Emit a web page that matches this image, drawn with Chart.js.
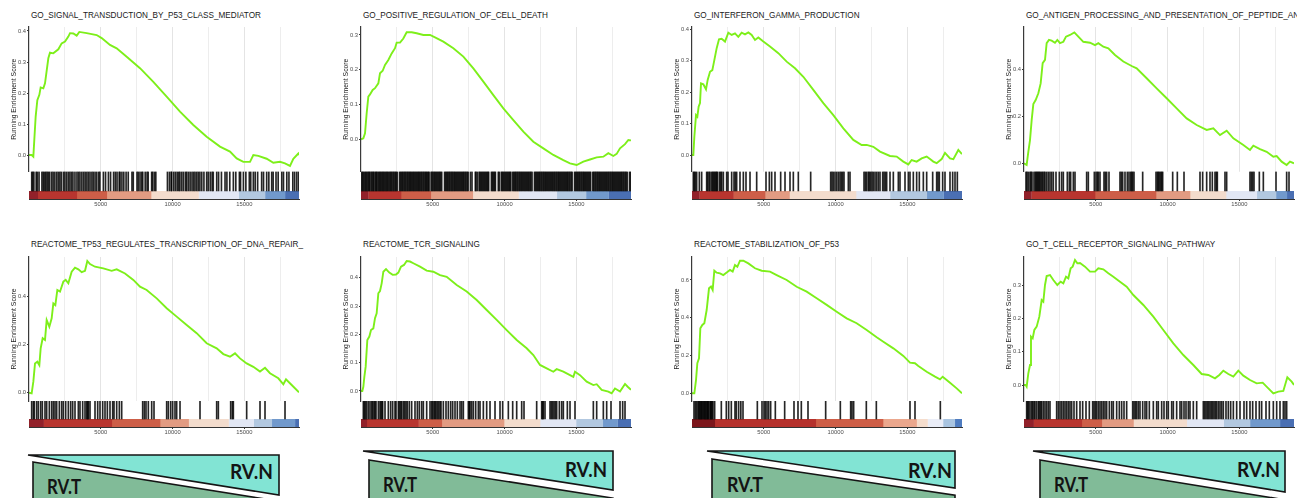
<!DOCTYPE html>
<html>
<head>
<meta charset="utf-8">
<script src="https://cdn.jsdelivr.net/npm/chart.js@4.4.0/dist/chart.umd.min.js"></script>
<style>
html,body{margin:0;padding:0;background:#fff;}
body{position:relative;width:1297px;height:498px;overflow:hidden;font-family:"Liberation Sans",Arial,sans-serif;}
.ptitle{position:absolute;font-size:8.2px;line-height:1;color:#1a1a1a;white-space:nowrap;}
canvas{position:absolute;}
svg{position:absolute;left:0;top:0;}
</style>
</head>
<body>
<svg id="decor" width="1297" height="498"></svg>
<script>
// ---------------- DATA ----------------
const N_GENES = 18800;
const xTickValues = [5000, 10000, 15000];
const xGridValues = [2500, 5000, 7500, 10000, 12500, 15000, 17500];
const yAxisLabel = 'Running Enrichment Score';
const groupHigh = 'RV.T';
const groupLow = 'RV.N';

const titleSignalP53 = 'GO_SIGNAL_TRANSDUCTION_BY_P53_CLASS_MEDIATOR';
const titleCellDeath = 'GO_POSITIVE_REGULATION_OF_CELL_DEATH';
const titleIfng = 'GO_INTERFERON_GAMMA_PRODUCTION';
const titleAntigen = 'GO_ANTIGEN_PROCESSING_AND_PRESENTATION_OF_PEPTIDE_AN';
const titleTp53Repair = 'REACTOME_TP53_REGULATES_TRANSCRIPTION_OF_DNA_REPAIR_';
const titleTcr = 'REACTOME_TCR_SIGNALING';
const titleStabP53 = 'REACTOME_STABILIZATION_OF_P53';
const titleTcrPathway = 'GO_T_CELL_RECEPTOR_SIGNALING_PATHWAY';

// running enrichment score: [rank, score]
const esSignalP53 = [[0,0],[186,0],[302,-0.005],[371,0.05],[464,0.124],[580,0.177],[720,0.194],[812,0.218],[998,0.215],[1114,0.231],[1346,0.312],[1462,0.33],[1694,0.328],[2042,0.341],[2274,0.36],[2507,0.366],[2739,0.382],[2855,0.393],[3087,0.392],[3319,0.385],[3505,0.397],[4016,0.393],[4712,0.387],[5060,0.377],[5640,0.355],[6104,0.344],[6801,0.317],[7729,0.28],[8657,0.236],[9586,0.188],[10514,0.14],[11442,0.097],[12370,0.059],[13299,0.027],[13995,0.011],[14459,-0.011],[14923,-0.022],[15388,-0.022],[15620,0.0],[15968,-0.003],[16548,-0.012],[17012,-0.025],[17476,-0.022],[17825,-0.027],[18173,-0.035],[18405,-0.012],[18753,0.005],[18800,0.0]];
const esCellDeath = [[0,0],[163,0.003],[279,0.017],[395,0.075],[511,0.123],[627,0.129],[813,0.142],[975,0.147],[1207,0.161],[1323,0.19],[1509,0.197],[1672,0.214],[1904,0.228],[2136,0.247],[2368,0.262],[2484,0.278],[2716,0.278],[2948,0.29],[3180,0.308],[3528,0.308],[3877,0.305],[4341,0.3],[4805,0.3],[5153,0.293],[5733,0.281],[6430,0.262],[7126,0.238],[7822,0.204],[8519,0.166],[9215,0.127],[9912,0.089],[10608,0.055],[11304,0.022],[12000,-0.007],[12696,-0.026],[13393,-0.045],[14089,-0.06],[14553,-0.069],[15017,-0.074],[15482,-0.064],[15946,-0.058],[16410,-0.052],[16874,-0.05],[17222,-0.04],[17570,-0.048],[17802,-0.042],[18035,-0.026],[18383,-0.014],[18615,-0.002],[18800,-0.003]];
const esIfng = [[0,0],[93,0],[163,0.058],[279,0.127],[372,0.122],[464,0.154],[557,0.165],[627,0.228],[789,0.225],[975,0.209],[1091,0.239],[1254,0.265],[1416,0.27],[1555,0.302],[1718,0.34],[1880,0.368],[2066,0.37],[2298,0.361],[2530,0.389],[2762,0.382],[2994,0.387],[3226,0.376],[3458,0.389],[3690,0.384],[3923,0.39],[4155,0.382],[4387,0.366],[4619,0.374],[4967,0.361],[5431,0.345],[6012,0.324],[6592,0.297],[7172,0.276],[7752,0.249],[8449,0.207],[9145,0.165],[9841,0.127],[10538,0.085],[11234,0.048],[11814,0.032],[12162,0.032],[12626,0.026],[13091,0.011],[13787,-0.003],[14251,-0.005],[14715,-0.021],[15063,-0.03],[15295,-0.016],[15643,-0.021],[15991,-0.011],[16339,-0.005],[16571,-0.013],[16803,-0.021],[17036,-0.026],[17384,-0.013],[17616,0.007],[17964,-0.011],[18196,-0.013],[18545,0.016],[18800,0.003]];
const esAntigen = [[0,0],[69,0],[185,-0.007],[301,0.049],[418,0.099],[534,0.184],[650,0.252],[812,0.269],[998,0.298],[1160,0.34],[1300,0.426],[1462,0.44],[1578,0.511],[1740,0.525],[1926,0.522],[2158,0.513],[2321,0.525],[2506,0.511],[2739,0.517],[2924,0.539],[3203,0.546],[3505,0.557],[3783,0.539],[4131,0.517],[4596,0.513],[4944,0.503],[5176,0.511],[5524,0.496],[5872,0.489],[6336,0.461],[6916,0.433],[7497,0.414],[7845,0.404],[8541,0.362],[9237,0.319],[9934,0.277],[10630,0.234],[11326,0.191],[12023,0.163],[12719,0.142],[13183,0.149],[13647,0.12],[14111,0.139],[14576,0.106],[15272,0.078],[15736,0.057],[15968,0.075],[16432,0.06],[16897,0.049],[17361,0.028],[17593,0.031],[17941,0.007],[18289,-0.007],[18521,0.007],[18800,0.0]];
const esTp53Repair = [[0,0],[186,-0.003],[302,0.046],[418,0.122],[580,0.129],[720,0.115],[812,0.185],[952,0.227],[1114,0.22],[1230,0.303],[1416,0.275],[1579,0.31],[1695,0.372],[1834,0.365],[1973,0.428],[2159,0.421],[2391,0.463],[2553,0.47],[2739,0.456],[2971,0.504],[3203,0.521],[3435,0.514],[3668,0.502],[3900,0.508],[4062,0.549],[4248,0.536],[4596,0.525],[5176,0.518],[5756,0.508],[6105,0.514],[6685,0.497],[7265,0.47],[7729,0.442],[8193,0.428],[8890,0.393],[9586,0.352],[10282,0.317],[10979,0.282],[11675,0.248],[12371,0.206],[13068,0.185],[13532,0.161],[13996,0.15],[14344,0.164],[14692,0.143],[15156,0.122],[15620,0.108],[16084,0.088],[16433,0.104],[16781,0.081],[17361,0.06],[17710,0.035],[17895,0.056],[18291,0.032],[18800,0.002]];
const esTcr = [[0,0],[93,0],[163,0.015],[233,0.05],[325,0.086],[441,0.18],[581,0.192],[697,0.215],[859,0.221],[975,0.257],[1091,0.274],[1207,0.345],[1323,0.353],[1440,0.38],[1556,0.421],[1741,0.43],[1973,0.418],[2206,0.41],[2438,0.411],[2600,0.418],[2786,0.439],[2994,0.445],[3180,0.459],[3412,0.457],[3645,0.451],[4109,0.439],[4573,0.425],[5037,0.421],[5501,0.409],[5966,0.403],[6662,0.374],[7358,0.351],[8054,0.321],[8751,0.286],[9447,0.251],[10143,0.215],[10840,0.18],[11536,0.151],[12000,0.127],[12464,0.092],[12929,0.08],[13393,0.068],[13625,0.077],[14089,0.068],[14553,0.056],[14786,0.05],[14902,0.068],[15250,0.056],[15714,0.033],[16178,0.021],[16410,0.024],[16758,0.004],[17222,-0.002],[17454,-0.008],[17686,0.009],[18035,-0.002],[18383,0.025],[18569,0.015],[18800,0.004]];
const esStabP53 = [[0,0],[163,0],[279,0.07],[372,0.159],[488,0.185],[580,0.344],[720,0.362],[859,0.371],[1021,0.441],[1184,0.556],[1323,0.565],[1439,0.547],[1555,0.649],[1718,0.639],[1950,0.635],[2182,0.626],[2414,0.639],[2646,0.653],[2832,0.644],[2994,0.679],[3157,0.67],[3342,0.702],[3575,0.702],[3923,0.688],[4387,0.662],[4851,0.649],[5432,0.644],[5896,0.626],[6592,0.6],[7288,0.564],[7984,0.538],[8681,0.503],[9377,0.468],[10073,0.432],[10770,0.397],[11466,0.371],[12162,0.335],[12859,0.297],[13323,0.273],[14019,0.238],[14715,0.198],[15179,0.162],[15527,0.159],[15760,0.145],[16340,0.114],[16920,0.088],[17268,0.074],[17454,0.088],[17965,0.056],[18429,0.026],[18800,0]];
const esTcrPathway = [[0,0],[116,0],[185,-0.005],[301,0.035],[418,0.06],[487,0.145],[603,0.14],[719,0.165],[882,0.175],[1067,0.205],[1230,0.255],[1346,0.25],[1462,0.3],[1578,0.327],[1810,0.33],[2042,0.315],[2321,0.3],[2553,0.31],[2739,0.305],[2924,0.325],[3087,0.32],[3249,0.35],[3389,0.355],[3551,0.375],[3713,0.365],[3899,0.366],[4247,0.355],[4596,0.34],[4944,0.34],[5176,0.35],[5524,0.347],[5872,0.335],[6220,0.325],[6684,0.31],[7148,0.295],[7613,0.27],[8309,0.24],[9005,0.205],[9701,0.165],[10398,0.125],[11094,0.09],[11790,0.06],[12371,0.033],[12835,0.03],[13299,0.02],[13600,0.03],[13880,0.043],[14227,0.033],[14576,0.025],[14924,0.043],[15272,0.028],[15736,0.015],[16200,0.005],[16618,0.007],[17013,-0.01],[17361,-0.025],[17709,-0.02],[18057,-0.018],[18336,0.023],[18638,0.01],[18800,0]];

// gene-set hit positions (ranks)
const hitsSignalP53 = [190,260,340,500,580,700,900,990,1080,1170,1260,1350,1440,1580,1680,1800,1930,2040,2150,2250,2400,2500,2620,2740,2850,2960,3060,3200,3340,3450,3550,3680,3800,3910,4030,4140,4250,4380,4480,4600,4720,4860,4940,5180,5330,5530,5680,5890,6010,6130,6280,6340,6470,6600,6760,6910,7170,7260,7520,7610,7730,7850,7920,8090,8220,8300,8540,8610,8730,8830,9640,9780,9900,9940,10080,10200,10320,10430,10510,10640,10760,10900,10980,11100,11220,11350,11460,11560,11680,11790,11900,12030,12180,12370,12480,12620,12750,12830,13070,13200,13400,13650,13780,13980,14230,14400,14650,14730,14930,15100,15340,15440,15620,15750,15920,16200,16330,16550,16700,16900,17000,17200,17350,17600,17720,17950,18100,18370,18500,18650,18780];
const hitsCellDeath = [40,110,170,260,330,400,480,550,610,700,770,840,900,990,1060,1120,1210,1280,1350,1420,1500,1560,1640,1710,1790,1850,1930,2010,2080,2150,2230,2300,2380,2450,2530,2690,2760,2840,2910,2990,3060,3130,3210,3280,3360,3430,3500,3580,3650,3720,3800,3870,3950,4020,4090,4170,4240,4320,4390,4470,4540,4610,4690,4740,4880,4950,5020,5100,5170,5250,5320,5400,5470,5540,5620,5820,5890,5970,6040,6120,6190,6270,6340,6410,6490,6560,6640,6710,6790,6860,6940,7010,7090,7160,7240,7310,7390,7460,7620,7730,7960,8010,8110,8230,8300,8380,8450,8530,8600,8680,8750,8830,8890,9080,9150,9220,9300,9360,9560,9630,9770,9840,9910,9990,10060,10140,10210,10290,10360,10430,10560,10630,10710,10780,10860,10930,11010,11080,11160,11230,11310,11380,11460,11530,11610,11680,11760,11830,11910,12080,12150,12230,12300,12380,12450,12530,12600,12680,12750,12830,12900,12980,13050,13130,13200,13280,13350,13430,13500,13580,13650,13730,13800,13880,13950,14030,14100,14180,14250,14330,14400,14480,14550,14630,14700,14870,14940,15020,15090,15170,15240,15320,15390,15470,15540,15620,15690,15770,15840,15920,15990,16140,16210,16290,16360,16440,16510,16590,16660,16740,16810,16890,16960,17040,17110,17190,17260,17340,17410,17490,17560,17640,17710,17790,17860,17940,18010,18090,18160,18240,18310,18390,18460,18540,18700,18770];
const hitsIfng = [93,163,232,325,511,673,1021,1091,1184,1254,1370,1439,1509,1579,1648,1718,1764,1903,1996,2066,2182,2414,2507,2762,2925,3017,3110,3342,3575,3760,4039,4503,5153,5385,5547,5779,6174,6476,6824,7056,7404,8263,9656,9748,9841,9957,10073,10189,10305,10398,10491,10584,10886,11002,11977,12070,12162,12278,12348,12441,12534,12626,12743,12859,12975,13091,13277,13370,13463,13555,13787,14019,14367,14483,14831,15063,15179,15411,15643,15829,16108,16340,16758,17036,17129,17222,17454,17616,17964,18150,18313,18475];
const hitsAntigen = [139,209,301,418,487,557,696,789,858,928,998,1067,1137,1230,1300,1392,1462,1578,1694,1810,1926,2042,2228,2460,2622,2739,3017,3156,3249,3435,3551,4363,4479,4897,5013,5106,5176,5292,5570,5663,5756,5918,6684,6777,6870,7032,7195,7311,7427,7497,7567,7659,8263,9191,9284,9353,9423,9516,9585,9655,10352,10676,11141,12255,12440,12719,12951,13113,13299,13392,13461,13995,14111,15736,15829,15922,16015,16386,16665,17547,18289,18452];
const hitsTp53Repair = [186,302,372,534,650,812,929,1114,1230,1416,1579,1695,1811,1927,2112,2275,2391,2553,2739,2902,3041,3203,3435,3551,3737,3900,4016,4085,4132,4248,4596,4782,4944,5130,5292,5455,5640,5826,5919,6105,6290,6453,7915,8031,8147,8309,8542,8704,9586,9702,9865,10004,10166,10282,10515,11907,13068,13184,14043,14158,14228,15156,16085,16433,17826];
const hitsTcr = [163,233,302,395,511,627,743,813,906,975,1045,1207,1323,1393,1463,1509,1672,1904,2066,2205,2368,2438,2600,2670,2763,2832,2948,3041,3134,3227,3366,3528,3760,3923,4062,4225,4341,4573,4805,4921,4991,5084,5153,5223,5316,5408,5501,5571,5733,5919,6082,6244,6383,6546,6708,6894,7010,7126,7474,7544,7590,7706,7822,7985,8170,8287,8519,8751,8983,9331,9679,9865,10259,10561,10840,11188,11350,12232,12580,12650,12696,12812,13161,13253,13346,13439,13532,13625,13811,13974,14089,14368,14553,14901,16178,16410,16874,17106,17408,18035,18220,18383];
const hitsStabP53 = [139,232,324,417,480,533,600,649,700,765,830,882,940,998,1067,1110,1160,1253,1300,1346,1400,1462,1578,2042,2390,2553,2738,2994,3087,3249,3400,3551,4549,4874,5013,5106,5222,5338,5477,5802,6452,7102,7380,7612,8077,9307,10328,11048,11140,11256,12138,12835,15179,15527,17291];
const hitsTcrPathway = [185,255,325,418,534,603,696,766,882,998,1067,1160,1230,1346,1462,1578,1694,1810,2274,2390,2506,2622,2739,2855,2971,3087,3203,3319,3481,3667,3899,4085,4317,4549,4781,4874,4967,5060,5176,5292,5408,5524,5640,5756,5941,6104,6220,6452,6638,6800,6963,7148,7566,7659,7752,7845,7961,8077,8263,8425,8541,8727,9005,9237,9353,9585,9748,9934,10050,10282,10398,10630,10862,10978,11141,11280,11442,11558,11790,12023,12487,12580,12672,12765,12858,12951,13044,13137,13230,13323,13415,13531,13647,13763,13879,14065,14227,14390,14576,14808,15040,15318,15504,15736,15922,16154,16386,16548,16850,17082,17361,17593,17825,18057,18173,18289];

// ranked-list colour blocks (rank breaks)
const breaksSignalP53 = [0,600,3319,5408,8495,11791,14576,16433,17826,18800];
const breaksCellDeath = [0,500,2786,4851,7776,10956,13625,15667,17222,18800];
const breaksIfng = [0,500,2878,5083,6777,11419,13787,16340,17501,18800];
const breaksAntigen = [0,500,4943,9191,11558,14065,16200,17546,18300,18800];
const breaksTp53Repair = [0,998,5756,9122,11095,13880,15620,16897,18522,18800];
const breaksTcr = [0,395,3993,5617,9958,12464,14971,16828,17849,18800];
const breaksStabP53 = [0,1578,8611,13299,15620,16386,17477,18290,18800];
const breaksTcrPathway = [0,650,4015,5408,7613,11326,13879,15736,17825,18800];

// y-axis ticks
const yTicksSignalP53 = [0,0.1,0.2,0.3,0.4];
const yTicksCellDeath = [0,0.1,0.2,0.3];
const yTicksIfng = [0,0.1,0.2,0.3,0.4];
const yTicksAntigen = [0,0.2,0.4];
const yTicksTp53Repair = [0,0.2,0.4];
const yTicksTcr = [0,0.1,0.2,0.3,0.4];
const yTicksStabP53 = [0,0.2,0.4,0.6];
const yTicksTcrPathway = [0,0.1,0.2,0.3];

// ---------------- STYLE / LAYOUT ----------------
const palette9 = ['#92212a','#b8352f','#cd5e48','#e29b82','#f3dccd','#e2e7f4','#b2c8e0','#7199cc','#4a6fb3'];
const paletteStab = ['#7c161b','#b5312c','#ce5e47','#eba78d','#f5ddcd','#eaedf7','#a9c4e0','#4f7cc0'];
const ES_COLOR = '#7def1a';
const COL_L = [29, 361, 692, 1024];
const ROWS = [
  {canvasTop: 0, chartTop: 27, esBottom: 171.5, chartBottom: 199, titleTop: 12},
  {canvasTop: 230, chartTop: 27, esBottom: 171, chartBottom: 197, titleTop: 241}
];
const CANVAS_W = 301, CANVAS_H = 215, YAXIS_W = 29, PLOT_W = 270;

const panels = [
  {col:0,row:0,title:titleSignalP53,es:esSignalP53,hits:hitsSignalP53,breaks:breaksSignalP53,colors:palette9,yTicks:yTicksSignalP53,yMin:-0.0532,yMax:0.4129},
  {col:1,row:0,title:titleCellDeath,es:esCellDeath,hits:hitsCellDeath,breaks:breaksCellDeath,colors:palette9,yTicks:yTicksCellDeath,yMin:-0.0926,yMax:0.323},
  {col:2,row:0,title:titleIfng,es:esIfng,hits:hitsIfng,breaks:breaksIfng,colors:palette9,yTicks:yTicksIfng,yMin:-0.0525,yMax:0.4073},
  {col:3,row:0,title:titleAntigen,es:esAntigen,hits:hitsAntigen,breaks:breaksAntigen,colors:palette9,yTicks:yTicksAntigen,yMin:-0.0349,yMax:0.58},
  {col:0,row:1,title:titleTp53Repair,es:esTp53Repair,hits:hitsTp53Repair,breaks:breaksTp53Repair,colors:palette9,yTicks:yTicksTp53Repair,yMin:-0.0346,yMax:0.5655},
  {col:1,row:1,title:titleTcr,es:esTcr,hits:hitsTcr,breaks:breaksTcr,colors:palette9,yTicks:yTicksTcr,yMin:-0.0353,yMax:0.473},
  {col:2,row:1,title:titleStabP53,es:esStabP53,hits:hitsStabP53,breaks:breaksStabP53,colors:paletteStab,yTicks:yTicksStabP53,yMin:-0.0408,yMax:0.7217},
  {col:3,row:1,title:titleTcrPathway,es:esTcrPathway,hits:hitsTcrPathway,breaks:breaksTcrPathway,colors:palette9,yTicks:yTicksTcrPathway,yMin:-0.048,yMax:0.384}
];

Chart.defaults.font.family = '"Liberation Sans", Arial, sans-serif';

function makePanel(p) {
  const row = ROWS[p.row];
  const L = COL_L[p.col];
  const t = document.createElement('div');
  t.className = 'ptitle';
  t.textContent = p.title;
  t.style.left = (L + 2) + 'px';
  t.style.top = row.titleTop + 'px';
  document.body.appendChild(t);

  const cv = document.createElement('canvas');
  cv.width = CANVAS_W; cv.height = CANVAS_H;
  cv.style.left = (L - YAXIS_W) + 'px';
  cv.style.top = row.canvasTop + 'px';
  cv.style.width = CANVAS_W + 'px';
  cv.style.height = CANVAS_H + 'px';
  document.body.appendChild(cv);

  const esH = row.esBottom - row.chartTop;
  const bandH = row.chartBottom - row.esBottom;
  const cbTop = 8 / bandH;

  const datasets = [];
  datasets.push({
    type: 'line', yAxisID: 'y', order: 0,
    data: p.es.map(([x, y]) => ({x, y})),
    borderColor: ES_COLOR, borderWidth: 1.9, pointRadius: 0, fill: false, tension: 0
  });
  datasets.push({
    type: 'bar', yAxisID: 'yb', order: 1,
    data: p.hits.map(r => ({x: r, y: [cbTop, 1]})),
    backgroundColor: 'rgba(0,0,0,0.85)', borderWidth: 0, barThickness: 1, grouped: false
  });
  for (let i = 0; i < p.colors.length; i++) {
    const x0 = p.breaks[i];
    const x1 = Math.min(p.breaks[i + 1] + 40, N_GENES);
    datasets.push({
      type: 'line', yAxisID: 'yb', order: 2,
      data: [{x: x0, y: cbTop}, {x: x1, y: cbTop}],
      borderWidth: 0, pointRadius: 0, fill: {value: 0}, backgroundColor: p.colors[i]
    });
  }
  datasets.push({
    type: 'line', yAxisID: 'yb', order: 3,
    data: [{x: 0, y: 1}, {x: N_GENES, y: 1}],
    borderWidth: 0, pointRadius: 0, fill: {value: 0}, backgroundColor: '#ffffff'
  });

  new Chart(cv, {
    type: 'line',
    data: {datasets},
    options: {
      responsive: false, animation: false, devicePixelRatio: 1, events: [],
      layout: {padding: {top: row.chartTop, left: 0, right: CANVAS_W - YAXIS_W - PLOT_W, bottom: CANVAS_H - row.chartBottom - 12}},
      plugins: {legend: {display: false}, tooltip: {enabled: false}, title: {display: false}},
      scales: {
        x: {
          type: 'linear', position: 'bottom', min: 0, max: N_GENES, offset: false, bounds: 'data',
          afterBuildTicks: s => { s.ticks = xGridValues.map(v => ({value: v})); },
          afterFit: s => { s.height = 12; },
          ticks: {autoSkip: false, maxRotation: 0, minRotation: 0, padding: 0, color: '#4d4d4d', font: {size: 5.8},
                  callback: v => xTickValues.includes(v) ? String(v) : ''},
          grid: {offset: false, lineWidth: 1, drawTicks: true, tickLength: 2,
                 color: c => (c.tick && c.tick.value % 5000 === 0) ? '#e4e4e4' : '#ededed',
                 tickColor: c => (c.tick && xTickValues.includes(c.tick.value)) ? '#333333' : 'rgba(0,0,0,0)'},
          border: {display: true, color: '#333333', width: 1, z: 1}
        },
        y: {
          type: 'linear', position: 'left', stack: 'gsea', stackWeight: esH, weight: 2,
          min: p.yMin, max: p.yMax, bounds: 'data',
          afterBuildTicks: s => { s.ticks = p.yTicks.map(v => ({value: v})); },
          afterFit: s => { s.width = YAXIS_W; },
          ticks: {padding: 1, color: '#4d4d4d', font: {size: 5.8}, callback: v => Number(v).toFixed(1)},
          grid: {display: true, drawOnChartArea: false, drawTicks: true, tickLength: 2, tickColor: '#333333'},
          border: {display: true, color: '#3a3a3a', width: 1.2, z: 1},
          title: {display: true, text: yAxisLabel, color: '#1a1a1a', font: {size: 6.8}, padding: {top: 9.6, bottom: 0}}
        },
        yb: {
          type: 'linear', position: 'left', stack: 'gsea', stackWeight: bandH, weight: 1,
          min: 0, max: 1, bounds: 'data',
          afterFit: s => { s.width = YAXIS_W; },
          ticks: {display: false}, grid: {display: false}, border: {display: false}
        }
      }
    }
  });
}

panels.forEach(makePanel);

// ---------------- group triangles (decoration) ----------------
const decor = [
  {cx0:28, cy0:455, cx1:279, cy1:495, gx:33, gy:462, nx0:230, nx1:273, nb:479, tx0:47, tx1:81, tb:494},
  {cx0:363, cy0:451, cx1:613, cy1:490, gx:369, gy:460, nx0:565, nx1:607, nb:477, tx0:383, tx1:417, tb:492},
  {cx0:707, cy0:451, cx1:955, cy1:488, gx:712, gy:459, nx0:908, nx1:952, nb:478, tx0:727, tx1:763, tb:492},
  {cx0:1033, cy0:451, cx1:1285, cy1:492, gx:1040, gy:460, nx0:1237, nx1:1280, nb:477, tx0:1054, tx1:1088, tb:492}
];
const svg = document.getElementById('decor');
const NS = 'http://www.w3.org/2000/svg';
decor.forEach(d => {
  const slope = (d.cy1 - d.cy0) / (d.cx1 - d.cx0);
  const g = document.createElementNS(NS, 'polygon');
  const gyR = d.gy + (d.cx1 - d.gx) * slope;
  g.setAttribute('points', `${d.gx},${d.gy} ${d.cx1},${gyR} ${d.cx1},530 ${d.gx},530`);
  g.setAttribute('fill', '#81bb98');
  g.setAttribute('stroke', '#151515');
  g.setAttribute('stroke-width', '1.6');
  svg.appendChild(g);
  const c = document.createElementNS(NS, 'polygon');
  c.setAttribute('points', `${d.cx0},${d.cy0} ${d.cx1},${d.cy0} ${d.cx1},${d.cy1}`);
  c.setAttribute('fill', '#82e4d4');
  c.setAttribute('stroke', '#151515');
  c.setAttribute('stroke-width', '1.6');
  c.setAttribute('stroke-linejoin', 'miter');
  svg.appendChild(c);
  const mk = (txt, x0, x1, b) => {
    const el = document.createElementNS(NS, 'text');
    el.setAttribute('x', x0);
    el.setAttribute('y', b);
    el.setAttribute('textLength', x1 - x0);
    el.setAttribute('lengthAdjust', 'spacingAndGlyphs');
    el.setAttribute('font-family', 'Lato, "Open Sans", sans-serif');
    el.setAttribute('font-weight', '700');
    el.setAttribute('font-size', '21');
    el.setAttribute('fill', '#141414');
    el.textContent = txt;
    svg.appendChild(el);
  };
  mk(groupLow, d.nx0, d.nx1, d.nb);
  mk(groupHigh, d.tx0, d.tx1, d.tb);
});
</script>
</body>
</html>
